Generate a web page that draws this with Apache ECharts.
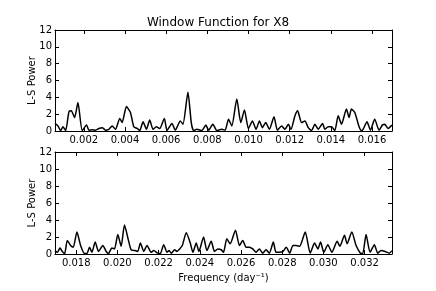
<!DOCTYPE html>
<html>
<head>
<meta charset="utf-8">
<script src="https://cdn.jsdelivr.net/npm/echarts@6/dist/echarts.min.js"></script>
<style>
  html, body { margin: 0; padding: 0; background: #fff; }
  #chart { width: 436px; height: 291px; }
</style>
</head>
<body>
<div id="chart"></div>
<script>
// window function, low-frequency half
var freqTop = [0.00060, 0.000745, 0.000874, 0.000987, 0.001117, 0.001278, 0.001391, 0.001552, 0.001714, 0.001924,
    0.002134, 0.002247, 0.002408, 0.002570, 0.002731, 0.002892, 0.003054, 0.003215, 0.003377, 0.003538,
    0.003748, 0.003861, 0.004071, 0.004265, 0.004426, 0.004588, 0.004717, 0.004878, 0.005040, 0.005201,
    0.005363, 0.005524, 0.005685, 0.005911, 0.006040, 0.006283, 0.006444, 0.006686, 0.006815, 0.007058,
    0.007219, 0.007332, 0.007493, 0.007736, 0.007929, 0.008058, 0.008268, 0.008462, 0.008704, 0.008866,
    0.009027, 0.009189, 0.009431, 0.009625, 0.009802, 0.009996, 0.010190, 0.010367, 0.010529, 0.010674,
    0.010835, 0.011013, 0.011239, 0.011400, 0.011610, 0.011772, 0.011933, 0.012062, 0.012256, 0.012385,
    0.012579, 0.012740, 0.012902, 0.013063, 0.013225, 0.013386, 0.013596, 0.013709, 0.013870, 0.014032,
    0.014193, 0.014355, 0.014516, 0.014758, 0.014887, 0.015000, 0.015162, 0.015372, 0.015485, 0.015565,
    0.015759, 0.015920, 0.016130, 0.016340, 0.016501, 0.016614, 0.016776, 0.016970];
var powerTop = [0.9, 0.6, 0.05, 0.5, 0.05, 2.3, 2.4, 1.6, 3.4, 0.05,
    0.7, 0.1, 0.15, 0.1, 0.3, 0.4, 0.1, 0.2, 0.6, 0.2,
    1.5, 1.0, 2.9, 2.2, 0.5, 0.3, 0.05, 1.1, 0.2, 1.3,
    0.2, 0.5, 0.3, 1.5, 0.05, 0.9, 0.1, 1.2, 0.8, 4.6,
    1.0, 0.05, 0.2, 0.05, 0.7, 0.1, 0.8, 0.05, 0.2, 0.1,
    1.4, 0.6, 3.8, 1.0, 2.5, 0.3, 1.2, 0.2, 1.2, 0.4,
    1.0, 0.2, 1.7, 0.1, 0.6, 0.2, 0.8, 0.2, 1.8, 2.4,
    1.0, 1.2, 0.4, 0.05, 0.8, 0.2, 0.9, 0.2, 0.5, 0.5,
    0.05, 1.8, 0.8, 2.6, 1.6, 2.6, 2.2, 0.5, 0.05, 0.2,
    1.1, 0.1, 1.4, 0.1, 0.7, 0.8, 0.3, 0.7];

// high-frequency half
var freqBot = [0.016970, 0.017083, 0.017212, 0.017325, 0.017438, 0.017567, 0.017728, 0.017857, 0.018035, 0.018212,
    0.018406, 0.018519, 0.018648, 0.018761, 0.018922, 0.019084, 0.019293, 0.019455, 0.019568, 0.019729,
    0.019858, 0.020019, 0.020181, 0.020342, 0.020536, 0.020665, 0.020858, 0.020987, 0.021116, 0.021278,
    0.021439, 0.021633, 0.021762, 0.021955, 0.022084, 0.022246, 0.022407, 0.022504, 0.022617, 0.022778,
    0.022891, 0.023020, 0.023149, 0.023343, 0.023537, 0.023666, 0.023827, 0.023956, 0.024182, 0.024343,
    0.024553, 0.024714, 0.024876, 0.025037, 0.025150, 0.025311, 0.025473, 0.025731, 0.025924, 0.026086,
    0.026247, 0.026408, 0.026570, 0.026731, 0.026892, 0.027054, 0.027215, 0.027376, 0.027570, 0.027699,
    0.027860, 0.028038, 0.028199, 0.028361, 0.028522, 0.028683, 0.028845, 0.029119, 0.029361, 0.029571,
    0.029732, 0.029861, 0.030022, 0.030216, 0.030410, 0.030668, 0.030797, 0.031023, 0.031152, 0.031378,
    0.031587, 0.031797, 0.031910, 0.032071, 0.032265, 0.032475, 0.032636, 0.032797, 0.032991, 0.033201,
    0.033330];
var powerBot = [0.4, 0.2, 0.7, 0.3, 0.05, 1.6, 1.0, 0.8, 2.6, 1.0,
    0.05, 0.05, 0.8, 0.2, 1.4, 0.3, 1.0, 0.3, 0.05, 0.7,
    0.6, 2.3, 0.9, 3.4, 1.6, 0.5, 0.4, 0.3, 1.3, 0.3,
    1.0, 0.2, 0.4, 0.1, 0.05, 1.1, 0.2, 0.4, 0.1, 0.5,
    0.3, 0.6, 1.0, 2.5, 1.3, 0.2, 1.3, 0.3, 2.0, 0.4,
    1.5, 0.3, 0.6, 0.5, 0.2, 1.8, 1.2, 2.8, 1.0, 1.6,
    0.8, 0.8, 0.6, 0.2, 0.6, 0.1, 0.5, 0.1, 1.4, 0.2,
    0.2, 0.3, 0.8, 0.1, 1.0, 1.0, 0.9, 2.6, 0.1, 1.3,
    0.6, 1.4, 0.2, 1.1, 0.2, 1.5, 0.9, 2.2, 1.2, 2.6,
    1.0, 0.1, 0.05, 2.3, 0.2, 1.1, 0.1, 0.4, 0.3, 0.1,
    0.4];

var ticksTop = [0.002, 0.004, 0.006, 0.008, 0.010, 0.012, 0.014, 0.016];
var ticksBot = [0.018, 0.020, 0.022, 0.024, 0.026, 0.028, 0.030, 0.032];
var rangeTop = [0.0006, 0.01697];
var rangeBot = [0.01697, 0.03333];

var font = 'DejaVu Sans';
var chart = echarts.init(document.getElementById('chart'));

function pairs(xs, ys) {
    return xs.map(function (x, i) { return [x, ys[i]]; });
}

function xAxisFor(gridIndex, range, ticks, pos, showLabel, name) {
    return {
        type: 'value', gridIndex: gridIndex, position: pos,
        min: range[0], max: range[1],
        name: name || '', nameLocation: 'middle', nameGap: 19,
        nameTextStyle: { fontFamily: font, fontSize: 10, color: '#000' },
        axisLine: { show: true, onZero: false, lineStyle: { color: '#000', width: 1 } },
        axisTick: { show: true, inside: true, length: 4, customValues: ticks, lineStyle: { color: '#000' } },
        axisLabel: {
            show: showLabel, customValues: ticks, margin: 4,
            fontFamily: font, fontSize: 10, color: '#000',
            formatter: function (v) { return v.toFixed(3); }
        },
        splitLine: { show: false }
    };
}

function yAxisFor(gridIndex, pos, showLabel) {
    return {
        type: 'value', gridIndex: gridIndex, position: pos,
        min: 0, max: 12, interval: 2,
        name: showLabel ? 'L-S Power' : '', nameLocation: 'middle', nameGap: 18, nameRotate: 90,
        nameMoveOverlap: false,
        nameTextStyle: { fontFamily: font, fontSize: 10, color: '#000' },
        axisLine: { show: true, onZero: false, lineStyle: { color: '#000', width: 1 } },
        axisTick: { show: true, inside: true, length: 4, lineStyle: { color: '#000' } },
        axisLabel: { show: showLabel, margin: 3, fontFamily: font, fontSize: 10, color: '#000' },
        splitLine: { show: false }
    };
}

var option = {
    animation: false,
    backgroundColor: '#fff',
    title: {
        text: 'Window Function for X8', left: 'center', top: 12,
        textStyle: { fontFamily: font, fontSize: 12, fontWeight: 'normal', color: '#000' }
    },
    grid: [
        { left: 55, right: 44, top: 30, height: 101 },
        { left: 55, right: 44, top: 152, height: 102 }
    ],
    xAxis: [
        xAxisFor(0, rangeTop, ticksTop, 'bottom', true),
        xAxisFor(0, rangeTop, ticksTop, 'top', false),
        xAxisFor(1, rangeBot, ticksBot, 'bottom', true, 'Frequency (day\u207B\u00B9)'),
        xAxisFor(1, rangeBot, ticksBot, 'top', false)
    ],
    yAxis: [
        yAxisFor(0, 'left', true),
        yAxisFor(0, 'right', false),
        yAxisFor(1, 'left', true),
        yAxisFor(1, 'right', false)
    ],
    series: [
        {
            type: 'line', xAxisIndex: 0, yAxisIndex: 0, data: pairs(freqTop, powerTop),
            showSymbol: false, smooth: 0.2, lineStyle: { color: '#000', width: 1.5 }
        },
        {
            type: 'line', xAxisIndex: 2, yAxisIndex: 2, data: pairs(freqBot, powerBot),
            showSymbol: false, smooth: 0.2, lineStyle: { color: '#000', width: 1.5 }
        }
    ]
};
chart.setOption(option);
</script>
</body>
</html>
